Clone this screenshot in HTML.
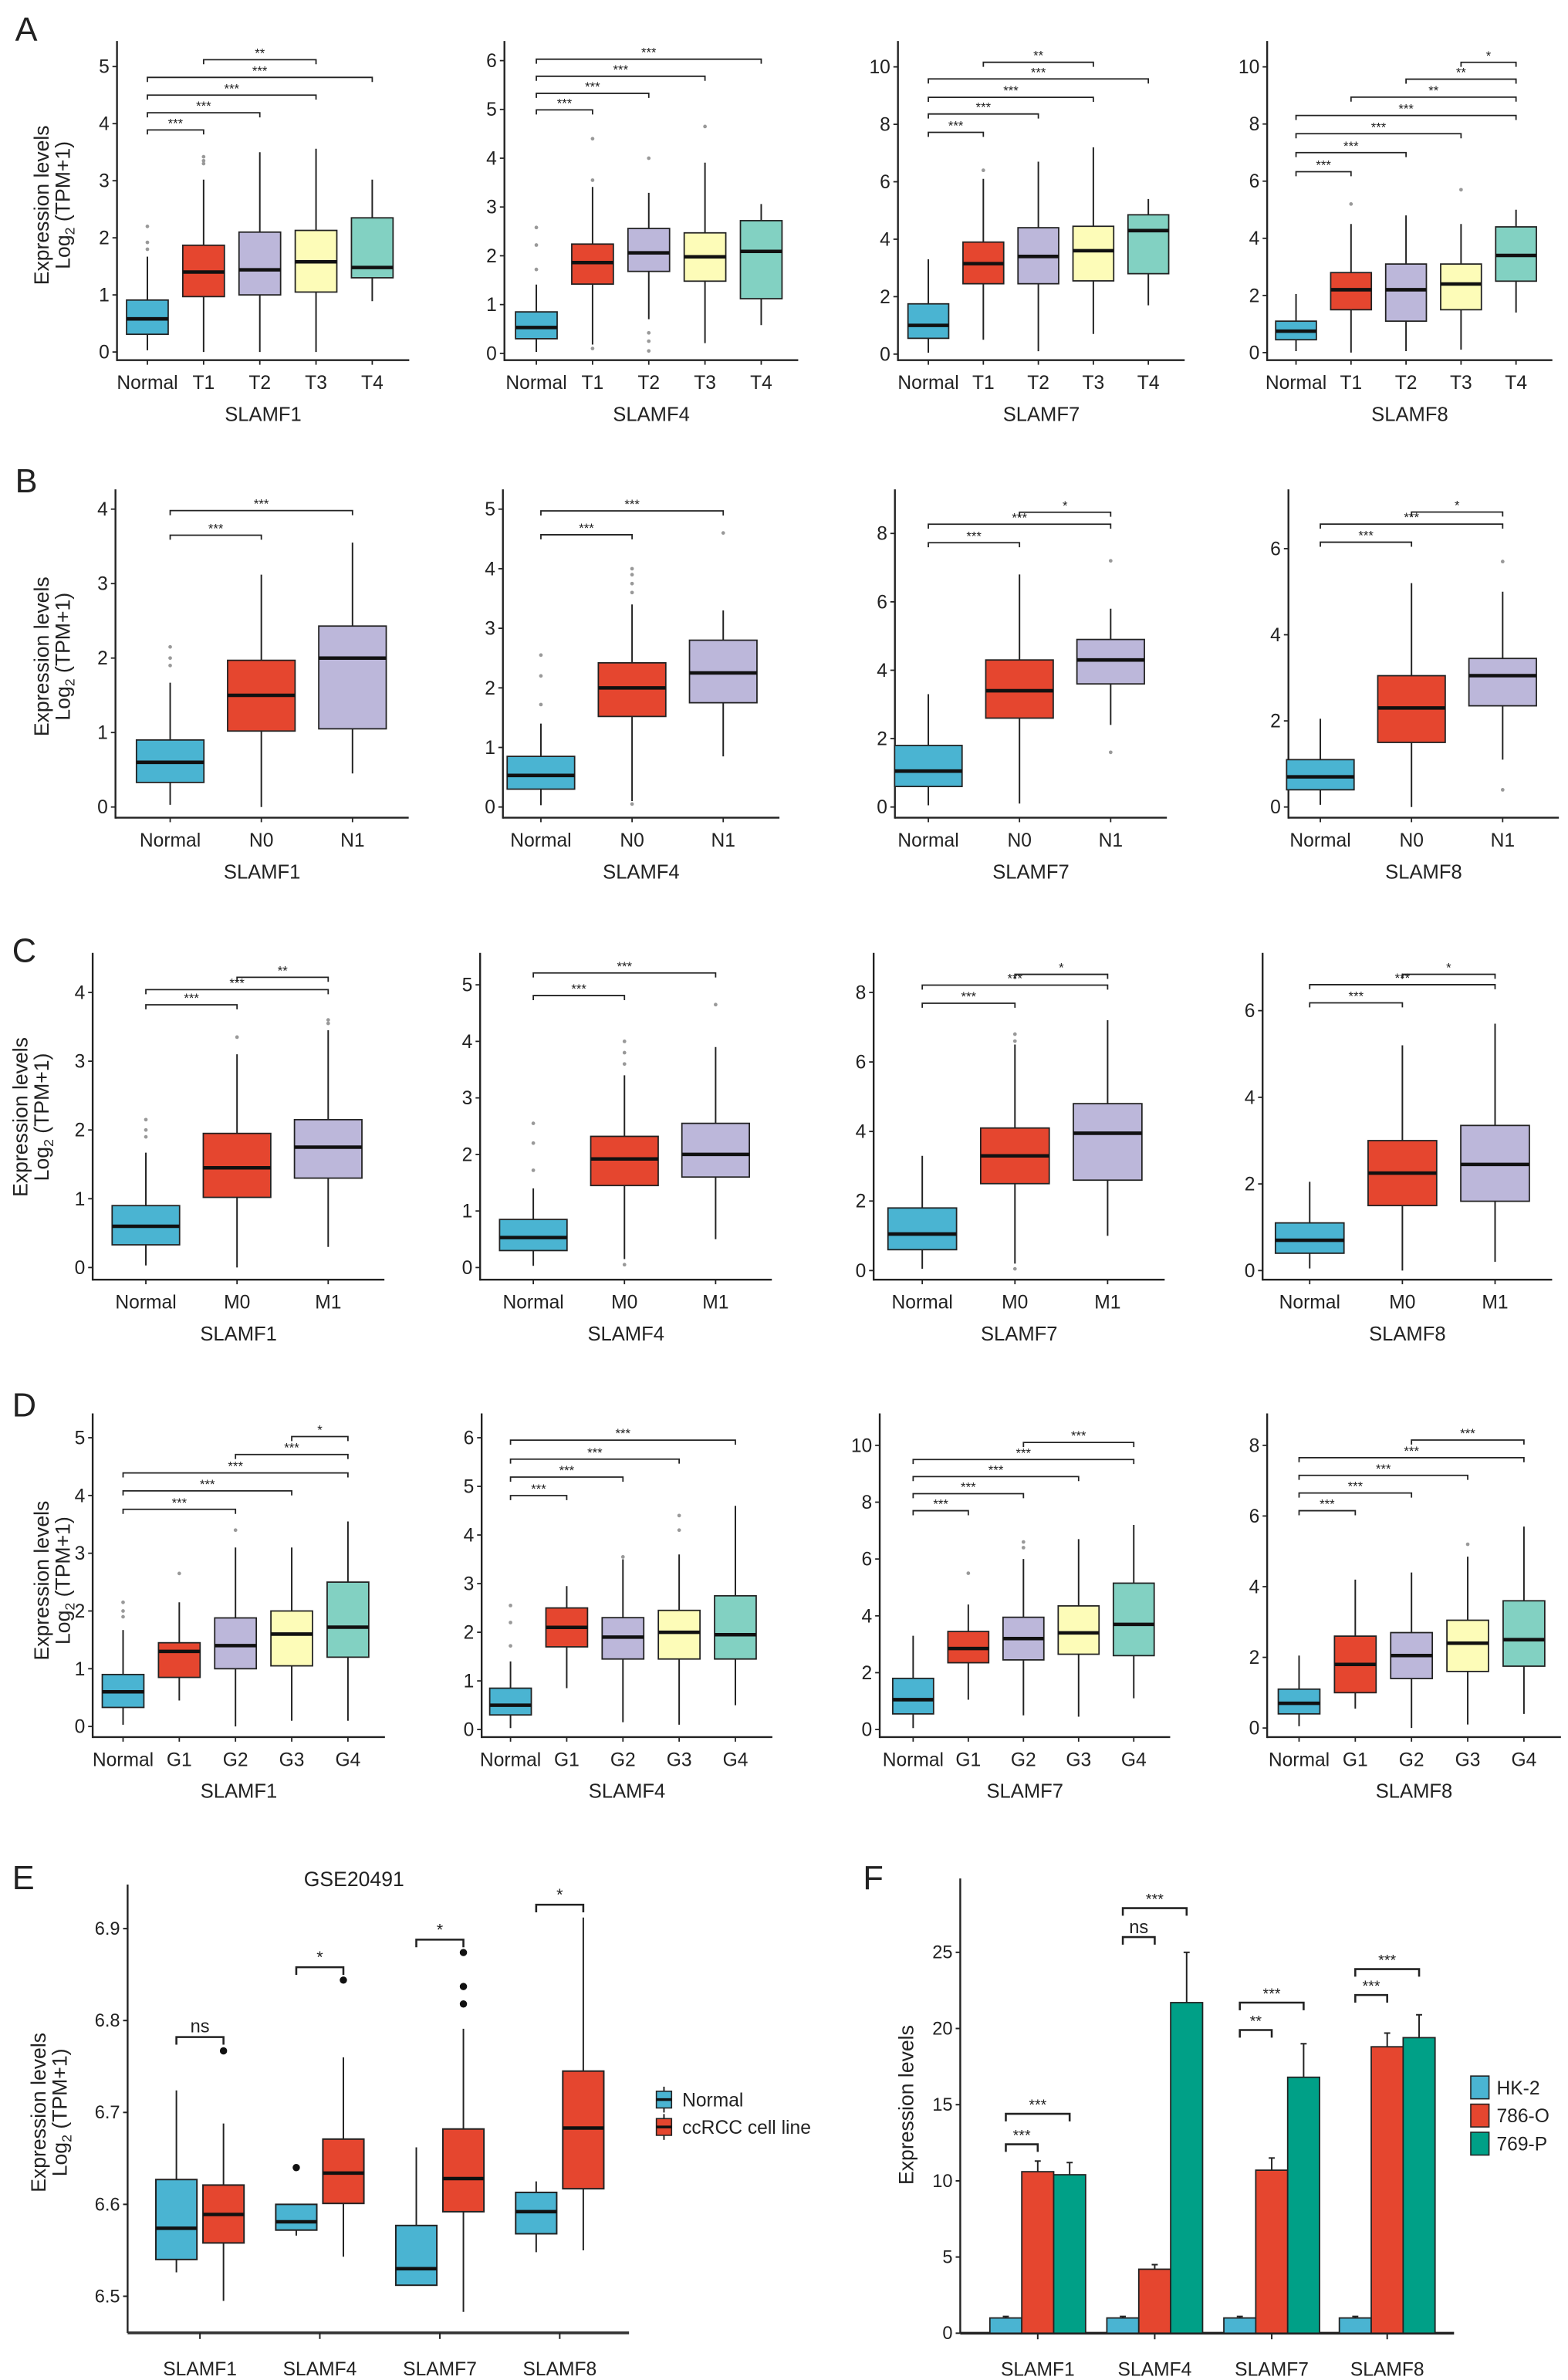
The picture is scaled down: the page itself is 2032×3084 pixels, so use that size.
<!DOCTYPE html>
<html><head><meta charset="utf-8"><style>
html,body{margin:0;padding:0;background:#fff}
svg{display:block}
text{font-family:"Liberation Sans Narrow","Liberation Sans",sans-serif;fill:#222}
</style></head><body>
<svg id="fig" xmlns="http://www.w3.org/2000/svg" width="2032" height="3084" viewBox="0 0 1032 1566" preserveAspectRatio="none">
<rect x="0" y="0" width="1032" height="1566" fill="#fff"/>
<g font-family="Liberation Sans, sans-serif" font-size="22" fill="#111">
<text x="10" y="27">A</text>
<text x="10" y="324">B</text>
<text x="8" y="633">C</text>
<text x="8" y="932">D</text>
<text x="8" y="1243">E</text>
<text x="568" y="1243">F</text>
</g>
</svg>
<script>
// ---------- DATA ----------
const catsA = ["Normal","T1","T2","T3","T4"];
const catsB = ["Normal","N0","N1"];
const catsC = ["Normal","M0","M1"];
const catsD = ["Normal","G1","G2","G3","G4"];
const genes = ["SLAMF1","SLAMF4","SLAMF7","SLAMF8"];
const fillsA = ["#4ab4d2","#e5462f","#bcb7da","#fdfcb8","#82d1c2"];
const fillsBC = ["#4ab4d2","#e5462f","#bcb7da"];

// [low whisker, Q1, median, Q3, high whisker]
const A1_stats = [[0.03,0.31,0.58,0.91,1.67],[0,0.97,1.40,1.87,3.02],[0,1.0,1.44,2.10,3.5],[0,1.05,1.58,2.13,3.56],[0.89,1.30,1.48,2.35,3.02]];
const A1_out = [[0,1.8],[0,1.92],[0,2.2],[1,3.3],[1,3.35],[1,3.42]];
const A1_br = [[0,1,3.89,"***"],[0,2,4.19,"***"],[0,3,4.50,"***"],[0,4,4.81,"***"],[1,3,5.12,"**"]];
const A2_stats = [[0.03,0.30,0.53,0.85,1.41],[0.18,1.42,1.86,2.24,3.41],[0.70,1.68,2.06,2.56,3.29],[0.21,1.48,1.98,2.47,3.91],[0.58,1.12,2.09,2.72,3.06]];
const A2_out = [[0,1.72],[0,2.22],[0,2.58],[1,3.55],[1,4.4],[1,0.1],[2,4.0],[2,0.42],[2,0.25],[2,0.05],[3,4.65]];
const A2_br = [[0,1,4.99,"***"],[0,2,5.33,"***"],[0,3,5.68,"***"],[0,4,6.03,"***"]];
const A3_stats = [[0.05,0.55,1.0,1.75,3.3],[0.5,2.45,3.15,3.9,6.1],[0.1,2.45,3.4,4.4,6.7],[0.7,2.55,3.6,4.45,7.2],[1.7,2.8,4.3,4.85,5.4]];
const A3_out = [[1,6.4]];
const A3_br = [[0,1,7.72,"***"],[0,2,8.36,"***"],[0,3,8.94,"***"],[0,4,9.58,"***"],[1,3,10.16,"**"]];
const A4_stats = [[0.05,0.45,0.75,1.1,2.05],[0,1.5,2.2,2.8,4.5],[0.05,1.1,2.2,3.1,4.8],[0.1,1.5,2.4,3.1,4.5],[1.4,2.5,3.4,4.4,5.0]];
const A4_out = [[1,5.2],[3,5.7]];
const A4_br = [[0,1,6.33,"***"],[0,2,7.0,"***"],[0,3,7.66,"***"],[0,4,8.3,"***"],[1,4,8.94,"**"],[2,4,9.57,"**"],[3,4,10.16,"*"]];

const B1_stats = [[0.03,0.33,0.6,0.9,1.67],[0,1.02,1.5,1.97,3.12],[0.45,1.05,2.0,2.43,3.55]];
const B1_out = [[0,1.9],[0,2.0],[0,2.15]];
const B1_br = [[0,1,3.65,"***"],[0,2,3.98,"***"]];
const B2_stats = [[0.03,0.3,0.53,0.85,1.4],[0.1,1.52,2.0,2.42,3.4],[0.85,1.75,2.25,2.8,3.3]];
const B2_out = [[0,1.72],[0,2.2],[0,2.55],[1,3.6],[1,3.75],[1,3.9],[1,4.0],[1,0.05],[2,4.6]];
const B2_br = [[0,1,4.57,"***"],[0,2,4.97,"***"]];
const B3_stats = [[0.05,0.6,1.05,1.8,3.3],[0.1,2.6,3.4,4.3,6.8],[2.4,3.6,4.3,4.9,5.8]];
const B3_out = [[2,7.2],[2,1.6]];
const B3_br = [[0,1,7.73,"***"],[0,2,8.27,"***"],[1,2,8.62,"*"]];
const B4_stats = [[0.05,0.4,0.7,1.1,2.05],[0,1.5,2.3,3.05,5.2],[1.1,2.35,3.05,3.45,5.0]];
const B4_out = [[2,5.7],[2,0.4]];
const B4_br = [[0,1,6.15,"***"],[0,2,6.57,"***"],[1,2,6.85,"*"]];

const C1_stats = [[0.03,0.33,0.6,0.9,1.67],[0,1.02,1.45,1.95,3.1],[0.3,1.3,1.75,2.15,3.45]];
const C1_out = [[0,1.9],[0,2.0],[0,2.15],[1,3.35],[2,3.55],[2,3.6]];
const C1_br = [[0,1,3.82,"***"],[0,2,4.04,"***"],[1,2,4.22,"**"]];
const C2_stats = [[0.03,0.3,0.53,0.85,1.4],[0.15,1.45,1.92,2.32,3.4],[0.5,1.6,2.0,2.55,3.9]];
const C2_out = [[0,1.72],[0,2.2],[0,2.55],[1,3.6],[1,3.8],[1,4.0],[1,0.05],[2,4.65]];
const C2_br = [[0,1,4.81,"***"],[0,2,5.21,"***"]];
const C3_stats = [[0.05,0.6,1.05,1.8,3.3],[0.2,2.5,3.3,4.1,6.5],[1.0,2.6,3.95,4.8,7.2]];
const C3_out = [[1,6.6],[1,6.8],[1,0.05]];
const C3_br = [[0,1,7.69,"***"],[0,2,8.21,"***"],[1,2,8.52,"*"]];
const C4_stats = [[0.05,0.4,0.7,1.1,2.05],[0,1.5,2.25,3.0,5.2],[0.2,1.6,2.45,3.35,5.7]];
const C4_out = [];
const C4_br = [[0,1,6.18,"***"],[0,2,6.6,"***"],[1,2,6.84,"*"]];

const D1_stats = [[0.03,0.33,0.6,0.9,1.67],[0.45,0.85,1.3,1.45,2.15],[0,1.0,1.4,1.88,3.1],[0.1,1.05,1.6,2.0,3.1],[0.1,1.2,1.72,2.5,3.55]];
const D1_out = [[0,1.9],[0,2.0],[0,2.15],[1,2.65],[2,3.4]];
const D1_br = [[0,2,3.76,"***"],[0,3,4.08,"***"],[0,4,4.39,"***"],[2,4,4.71,"***"],[3,4,5.02,"*"]];
const D2_stats = [[0.03,0.3,0.5,0.85,1.4],[0.85,1.7,2.1,2.5,2.95],[0.15,1.45,1.9,2.3,3.5],[0.1,1.45,2.0,2.45,3.6],[0.5,1.45,1.95,2.75,4.6]];
const D2_out = [[0,1.72],[0,2.2],[0,2.55],[2,3.55],[3,4.1],[3,4.4]];
const D2_br = [[0,1,4.81,"***"],[0,2,5.19,"***"],[0,3,5.56,"***"],[0,4,5.95,"***"]];
const D3_stats = [[0.05,0.55,1.05,1.8,3.3],[1.05,2.35,2.85,3.45,4.4],[0.5,2.45,3.2,3.95,6.0],[0.45,2.65,3.4,4.35,6.7],[1.1,2.6,3.7,5.15,7.2]];
const D3_out = [[1,5.5],[2,6.4],[2,6.6]];
const D3_br = [[0,1,7.7,"***"],[0,2,8.3,"***"],[0,3,8.9,"***"],[0,4,9.5,"***"],[2,4,10.1,"***"]];
const D4_stats = [[0.05,0.4,0.7,1.1,2.05],[0.55,1.0,1.8,2.6,4.2],[0,1.4,2.05,2.7,4.4],[0.1,1.6,2.4,3.05,4.85],[0.4,1.75,2.5,3.6,5.7]];
const D4_out = [[3,5.2]];
const D4_br = [[0,1,6.15,"***"],[0,2,6.65,"***"],[0,3,7.15,"***"],[0,4,7.65,"***"],[2,4,8.15,"***"]];

// Panel E (GSE20491)
const E_groups = ["Normal","ccRCC cell line"];
const E_normal = [[6.526,6.540,6.574,6.627,6.724],[6.566,6.572,6.581,6.600,6.600],[6.512,6.512,6.530,6.577,6.662],[6.548,6.568,6.592,6.613,6.625]];
const E_tumor = [[6.495,6.558,6.589,6.621,6.688],[6.543,6.601,6.634,6.671,6.760],[6.483,6.592,6.628,6.682,6.791],[6.550,6.617,6.683,6.745,6.912]];
const E_out_normal = [[1,6.640]];
const E_out_tumor = [[0,6.767],[1,6.844],[2,6.818],[2,6.837],[2,6.874]];
const E_sig = ["ns","*","*","*"];
const E_sigY = [6.782,6.858,6.888,6.926];
const E_ticks = [6.5,6.6,6.7,6.8,6.9];

// Panel F
const F_series = ["HK-2","786-O","769-P"];
const F_hk2 = [1,1,1,1];
const F_786 = [10.6,4.2,10.7,18.8];
const F_769 = [10.4,21.7,16.8,19.4];
const F_hk2_err = [1.1,1.1,1.1,1.1];
const F_786_err = [11.3,4.5,11.5,19.7];
const F_769_err = [11.2,25.0,19.0,20.9];
const F_br = [[0,0,1,12.4,"***"],[0,0,2,14.4,"***"],[1,0,1,26.0,"ns"],[1,0,2,27.9,"***"],[2,0,1,19.9,"**"],[2,0,2,21.7,"***"],[3,0,1,22.2,"***"],[3,0,2,23.9,"***"]];
const F_ticks = [0,5,10,15,20,25];
const F_colors = ["#4ab4d2","#e5462f","#00a087"];

// ---------- DRAWING ----------
const NS = "http://www.w3.org/2000/svg";
const svg = document.getElementById("fig");
function mk(tag, attrs, parent, txt){
  const e = document.createElementNS(NS, tag);
  for (const k in attrs) e.setAttribute(k, attrs[k]);
  if (txt !== undefined) e.textContent = txt;
  (parent || svg).appendChild(e);
  return e;
}

function boxPanel(L, cats, fills, stats, outs, brs, gene, name){
  const g = mk("g", {}, svg);
  
  
  const ys = v => L.zeroY - (v) * (L.zeroY - L.topY) / L.topV;
  const xs = i => L.cx0 + i * L.step;
  const bw = L.step * 0.74;
  const ax = mk("g", {}, g);
  
  
  mk("line", {x1:L.ax, y1:L.top, x2:L.ax, y2:L.bottom+0.6, stroke:"#222","stroke-width":1.2}, ax);
  for (let v = 0; v <= L.topV + 1e-9; v += L.tstep){
    mk("line", {x1:L.ax-3, y1:ys(v), x2:L.ax, y2:ys(v), stroke:"#222","stroke-width":0.9}, ax);
    const t = mk("text", {x:L.ax-5, y:ys(v)+4.3, "text-anchor":"end","font-size":12.5}, ax, String(v));
    
    
  }
  const xa = mk("g", {}, g);
  
  
  const right = xs(cats.length-1) + L.step*0.55 + 4;
  mk("line", {x1:L.ax, y1:L.bottom, x2:right, y2:L.bottom, stroke:"#222","stroke-width":1.2}, xa);
  cats.forEach((c,i)=>{
    mk("line", {x1:xs(i), y1:L.bottom, x2:xs(i), y2:L.bottom+3, stroke:"#222","stroke-width":0.9}, xa);
    const t = mk("text", {x:xs(i), y:L.bottom+19, "text-anchor":"middle","font-size":12.5}, xa, c);
    
    
  });
  const gt = mk("text", {x:(L.ax+right)/2, y:L.bottom+40, "text-anchor":"middle","font-size":13}, g, gene);
  
  
  stats.forEach((s,i)=>{
    const b = mk("g", {}, g);
    
    
    const x = xs(i);
    mk("line", {x1:x, y1:ys(s[0]), x2:x, y2:ys(s[4]), stroke:"#222","stroke-width":1}, b);
    mk("rect", {x:x-bw/2, y:ys(s[3]), width:bw, height:ys(s[1])-ys(s[3]), fill:fills[i], stroke:"#222","stroke-width":0.9}, b);
    mk("line", {x1:x-bw/2, y1:ys(s[2]), x2:x+bw/2, y2:ys(s[2]), stroke:"#111","stroke-width":2.3}, b);
  });
  outs.forEach(o=>{
    const c = mk("circle", {cx:xs(o[0]), cy:ys(o[1]), r:1.2, fill:"#999"}, g);
    
    
  });
  brs.forEach(br=>{
    const bg = mk("g", {}, g);
    
    
    const x1 = xs(br[0]), x2 = xs(br[1]), y = ys(br[2]);
    mk("path", {d:`M${x1},${y+3}V${y}H${x2}V${y+3}`, fill:"none", stroke:"#222","stroke-width":0.9}, bg);
    mk("text", {x:(x1+x2)/2, y:y-1.5, "text-anchor":"middle","font-size":8.5}, bg, br[3]);
  });
}

function yTitle(x, cy, name){
  const g = mk("g", {transform:`translate(${x},${cy}) rotate(-90)`}, svg);
  
  
  mk("text", {x:0, y:0, "text-anchor":"middle","font-size":13.5,"font-family":"Liberation Sans, sans-serif"}, g, "Expression levels");
  const t = mk("text", {x:0, y:14, "text-anchor":"middle","font-size":13.5,"font-family":"Liberation Sans, sans-serif"}, g);
  t.innerHTML = 'Log<tspan font-size="9" dy="3">2</tspan><tspan dy="-3"> (TPM+1)</tspan>';
}

const rows = [
 {id:"a", cats:catsA, fills:fillsA, top:27, bottom:237,
  L:[{ax:77,cx0:97,step:37,zeroY:231.6,topY:43.8,topV:5,tstep:1},
     {ax:332,cx0:353,step:37,zeroY:232.5,topY:39.9,topV:6,tstep:1},
     {ax:591,cx0:611,step:36.2,zeroY:233,topY:44,topV:10,tstep:2},
     {ax:834,cx0:853,step:36.2,zeroY:232,topY:44,topV:10,tstep:2}],
  data:[[A1_stats,A1_out,A1_br],[A2_stats,A2_out,A2_br],[A3_stats,A3_out,A3_br],[A4_stats,A4_out,A4_br]], titleX:22, titleY:135},
 {id:"b", cats:catsB, fills:fillsBC, top:322, bottom:538,
  L:[{ax:76,cx0:112,step:60,zeroY:531,topY:335,topV:4,tstep:1},
     {ax:331,cx0:356,step:60,zeroY:531,topY:335,topV:5,tstep:1},
     {ax:589,cx0:611,step:60,zeroY:531,topY:351,topV:8,tstep:2},
     {ax:848,cx0:869,step:60,zeroY:531,topY:361,topV:6,tstep:2}],
  data:[[B1_stats,B1_out,B1_br],[B2_stats,B2_out,B2_br],[B3_stats,B3_out,B3_br],[B4_stats,B4_out,B4_br]], titleX:22, titleY:432},
 {id:"c", cats:catsC, fills:fillsBC, top:627, bottom:842,
  L:[{ax:61,cx0:96,step:60,zeroY:834,topY:653,topV:4,tstep:1},
     {ax:316,cx0:351,step:60,zeroY:834,topY:648,topV:5,tstep:1},
     {ax:575,cx0:607,step:61,zeroY:836,topY:653,topV:8,tstep:2},
     {ax:831,cx0:862,step:61,zeroY:836,topY:665,topV:6,tstep:2}],
  data:[[C1_stats,C1_out,C1_br],[C2_stats,C2_out,C2_br],[C3_stats,C3_out,C3_br],[C4_stats,C4_out,C4_br]], titleX:8, titleY:735},
 {id:"d", cats:catsD, fills:fillsA, top:930, bottom:1143,
  L:[{ax:61,cx0:81,step:37,zeroY:1136,topY:946,topV:5,tstep:1},
     {ax:317,cx0:336,step:37,zeroY:1138,topY:946,topV:6,tstep:1},
     {ax:579,cx0:601,step:36.3,zeroY:1138,topY:951,topV:10,tstep:2},
     {ax:834,cx0:855,step:37,zeroY:1137,topY:951,topV:8,tstep:2}],
  data:[[D1_stats,D1_out,D1_br],[D2_stats,D2_out,D2_br],[D3_stats,D3_out,D3_br],[D4_stats,D4_out,D4_br]], titleX:22, titleY:1040}
];
rows.forEach(r=>{
  yTitle(r.titleX+10, r.titleY, 'y-axis-title-' + r.id);
  r.L.forEach((L,k)=>{
    L.top = r.top; L.bottom = r.bottom;
    boxPanel(L, r.cats, r.fills, r.data[k][0], r.data[k][1], r.data[k][2], genes[k], 'panel-' + r.id + '-' + genes[k].toLowerCase());
  });
});

// ---------- Panel E ----------
(function(){
  const g = mk("g", {}, svg);
  
  
  const ys = v => 1510.9 - (v - 6.5) * (1510.9 - 1269) / 0.4;
  const cx = [131.6,210.5,289.5,368.4];
  const AX = 84, BOT = 1535, TOP = 1240, RIGHT = 414;
  const t = mk("text", {x:233, y:1241, "text-anchor":"middle","font-size":13.5,"font-family":"Liberation Sans, sans-serif"}, g, "GSE20491");
  
  
  mk("line", {x1:AX, y1:TOP, x2:AX, y2:BOT, stroke:"#222","stroke-width":1.2}, g);
  mk("line", {x1:AX, y1:BOT, x2:RIGHT, y2:BOT, stroke:"#333","stroke-width":1.8}, g);
  E_ticks.forEach(v=>{
    mk("line", {x1:AX-3, y1:ys(v), x2:AX, y2:ys(v), stroke:"#222"}, g);
    const tl = mk("text", {x:AX-5, y:ys(v)+4, "text-anchor":"end","font-size":12}, g, v.toFixed(1));
    
    
  });
  genes.forEach((gn,i)=>{
    mk("line", {x1:cx[i], y1:BOT, x2:cx[i], y2:BOT+4, stroke:"#222"}, g);
    const tl = mk("text", {x:cx[i], y:BOT+28, "text-anchor":"middle","font-size":12.5}, g, gn);
    
    
  });
  const bw = 27;
  function box(x, s, fill, nm){
    const b = mk("g", {}, g);
    
    
    mk("line", {x1:x, y1:ys(s[0]), x2:x, y2:ys(s[4]), stroke:"#222"}, b);
    mk("rect", {x:x-bw/2, y:ys(s[3]), width:bw, height:ys(s[1])-ys(s[3]), fill:fill, stroke:"#222","stroke-width":1}, b);
    mk("line", {x1:x-bw/2, y1:ys(s[2]), x2:x+bw/2, y2:ys(s[2]), stroke:"#111","stroke-width":2.3}, b);
  }
  E_normal.forEach((s,i)=>box(cx[i]-15.5, s, "#4ab4d2", 'box-normal'));
  E_tumor.forEach((s,i)=>box(cx[i]+15.5, s, "#e5462f", 'box-ccrcc'));
  E_out_normal.forEach(o=>{
    const c = mk("circle", {cx:cx[o[0]]-15.5, cy:ys(o[1]), r:2.4, fill:"#111"}, g);
    
    
  });
  E_out_tumor.forEach(o=>{
    const c = mk("circle", {cx:cx[o[0]]+15.5, cy:ys(o[1]), r:2.4, fill:"#111"}, g);
    
    
  });
  E_sig.forEach((s,i)=>{
    const bg = mk("g", {}, g);
    
    
    const y = ys(E_sigY[i]), x1 = cx[i]-15.5, x2 = cx[i]+15.5;
    mk("path", {d:`M${x1},${y+5}V${y}H${x2}V${y+5}`, fill:"none", stroke:"#222","stroke-width":1.3}, bg);
    mk("text", {x:cx[i], y:y-3, "text-anchor":"middle","font-size":s==="ns"?12:11}, bg, s);
  });
  yTitle(30, 1390, 'y-axis-title-e');
  const lg = mk("g", {}, g);
  
  
  [["#4ab4d2",E_groups[0]],["#e5462f",E_groups[1]]].forEach((e,k)=>{
    const y = 1375 + k*18;
    const le = mk("g", {}, lg);
    
    
    mk("line", {x1:437, y1:y-2, x2:437, y2:y+15, stroke:"#222"}, le);
    mk("rect", {x:432, y:y+1, width:10, height:11, fill:e[0], stroke:"#222","stroke-width":0.8}, le);
    mk("line", {x1:432, y1:y+6.5, x2:442, y2:y+6.5, stroke:"#111","stroke-width":1.8}, le);
    mk("text", {x:449, y:y+11, "font-size":12.5}, le, e[1]);
  });
})();

// ---------- Panel F ----------
(function(){
  const g = mk("g", {}, svg);
  
  
  const ys = v => 1535.2 - v * (1535.2 - 1284.6) / 25;
  const cx = [683,760,837,913];
  const AX = 632, BOT = 1535.2, TOP = 1236, RIGHT = 957, BW = 21;
  mk("line", {x1:AX, y1:TOP, x2:AX, y2:BOT, stroke:"#222","stroke-width":1.2}, g);
  mk("line", {x1:AX, y1:BOT, x2:RIGHT, y2:BOT, stroke:"#222","stroke-width":1.8}, g);
  F_ticks.forEach(v=>{
    mk("line", {x1:AX-3, y1:ys(v), x2:AX, y2:ys(v), stroke:"#222"}, g);
    const tl = mk("text", {x:AX-5, y:ys(v)+4, "text-anchor":"end","font-size":12}, g, String(v));
    
    
  });
  genes.forEach((gn,i)=>{
    mk("line", {x1:cx[i], y1:BOT, x2:cx[i], y2:BOT+4, stroke:"#222"}, g);
    const tl = mk("text", {x:cx[i], y:BOT+28, "text-anchor":"middle","font-size":12.5}, g, gn);
    
    
  });
  const series = [F_hk2, F_786, F_769], errs = [F_hk2_err, F_786_err, F_769_err];
  series.forEach((vals,s)=>{
    vals.forEach((v,i)=>{
      const x = cx[i] + (s-1)*BW;
      const bg = mk("g", {}, g);
      
      
      mk("line", {x1:x, y1:ys(v), x2:x, y2:ys(errs[s][i]), stroke:"#222","stroke-width":1}, bg);
      mk("line", {x1:x-2, y1:ys(errs[s][i]), x2:x+2, y2:ys(errs[s][i]), stroke:"#222","stroke-width":1}, bg);
      mk("rect", {x:x-BW/2, y:ys(v), width:BW, height:BOT-ys(v), fill:F_colors[s], stroke:"#222","stroke-width":0.9}, bg);
    });
  });
  F_br.forEach(b=>{
    const bg = mk("g", {}, g);
    
    
    const x1 = cx[b[0]] + (b[1]-1)*BW, x2 = cx[b[0]] + (b[2]-1)*BW, y = ys(b[3]);
    mk("path", {d:`M${x1},${y+5}V${y}H${x2}V${y+5}`, fill:"none", stroke:"#222","stroke-width":1.3}, bg);
    mk("text", {x:(x1+x2)/2, y:y-2.5, "text-anchor":"middle","font-size":b[4]==="ns"?12:10}, bg, b[4]);
  });
  const tg = mk("g", {transform:"translate(601,1385) rotate(-90)"}, g);
  
  
  mk("text", {x:0, y:0, "text-anchor":"middle","font-size":13.5,"font-family":"Liberation Sans, sans-serif"}, tg, "Expression levels");
  const lg = mk("g", {}, g);
  
  
  F_series.forEach((s,k)=>{
    const y = 1366 + k*18.5;
    const le = mk("g", {}, lg);
    
    
    mk("rect", {x:968, y:y, width:12, height:15, fill:F_colors[k], stroke:"#222","stroke-width":0.8}, le);
    mk("text", {x:985, y:y+12, "font-size":12.5}, le, s);
  });
})();
</script>
</body></html>
